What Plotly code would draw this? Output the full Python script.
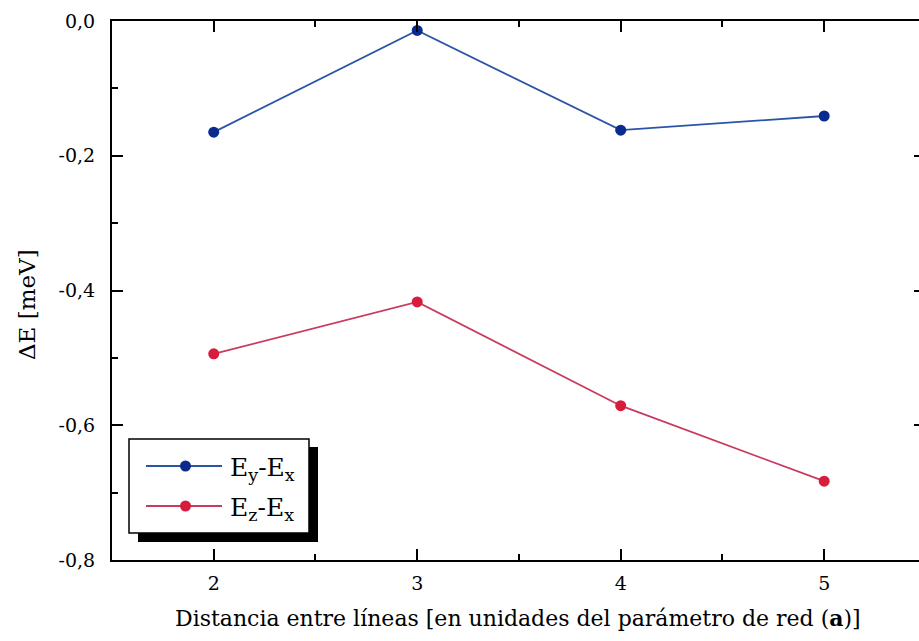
import plotly.graph_objects as go

# Distance between lines (in lattice parameter units)
distances = [2, 3, 4, 5]

# Energy differences [meV]
ey_minus_ex = [-0.165, -0.014, -0.162, -0.141]
ez_minus_ex = [-0.494, -0.417, -0.571, -0.683]

y_tick_values = [0.0, -0.2, -0.4, -0.6, -0.8]
y_tick_labels = ["0,0", "-0,2", "-0,4", "-0,6", "-0,8"]
x_tick_values = [2, 3, 4, 5]

series_names = ["E<sub>y</sub>-E<sub>x</sub>", "E<sub>z</sub>-E<sub>x</sub>"]
line_colors = ["#2a55a6", "#c93a5e"]
marker_colors = ["#0b2a8e", "#d81c3c"]

FONT = "DejaVu Serif"
W, H = 919, 641
ML, MR, MT, MB = 112, 0, 21, 81
PW, PH = W - ML - MR, H - MT - MB


def px(xp):
    return (xp - ML) / PW


def py(yp):
    return (H - MB - yp) / PH


fig = go.Figure()
for name, vals, lc, mc in zip(series_names, [ey_minus_ex, ez_minus_ex], line_colors, marker_colors):
    fig.add_trace(go.Scatter(
        x=distances, y=vals, name=name, mode="lines+markers",
        line=dict(color=lc, width=1.8),
        marker=dict(color=mc, size=11),
        showlegend=False,
    ))

# Empty trace bound to the right-hand axis so its ticks are drawn
fig.add_trace(go.Scatter(x=[None], y=[None], yaxis="y2", mode="lines",
                         showlegend=False, hoverinfo="skip"))

axis_common = dict(
    showgrid=False, zeroline=False, showline=True, linecolor="black", linewidth=2,
    ticks="inside", tickcolor="black", tickwidth=2, ticklen=11,
    tickfont=dict(family=FONT, size=19, color="black"),
)

fig.update_layout(
    width=W, height=H,
    margin=dict(l=ML, r=MR, t=MT, b=MB),
    paper_bgcolor="white", plot_bgcolor="white",
    xaxis=dict(
        range=[1.5, 5.466], tickvals=x_tick_values, mirror="ticks",
        minor=dict(ticks="inside", ticklen=6, tickwidth=2, tickcolor="black", dtick=0.5, tick0=1.5),
        ticklabelstandoff=5,
        **axis_common,
    ),
    yaxis=dict(
        range=[-0.8, 0.0], tickvals=y_tick_values, ticktext=y_tick_labels, mirror=False,
        minor=dict(ticks="inside", ticklen=6, tickwidth=2, tickcolor="black", dtick=0.1, tick0=0),
        ticklabelstandoff=11,
        **axis_common,
    ),
    yaxis2=dict(
        overlaying="y", side="right", anchor="x", range=[-0.8, 0.0],
        tickvals=y_tick_values, showticklabels=False, showgrid=False, zeroline=False,
        showline=False, ticks="inside", ticklen=5, tickwidth=2, tickcolor="black",
    ),
    showlegend=False,
)

# Axis titles
fig.add_annotation(
    text="Distancia entre líneas [en unidades del parámetro de red (<b>a</b>)]",
    xref="paper", yref="paper", x=px(518), y=py(618), showarrow=False,
    font=dict(family=FONT, size=22, color="black"), xanchor="center", yanchor="middle",
)
fig.add_annotation(
    text="ΔE [meV]", textangle=-90,
    xref="paper", yref="paper", x=px(27), y=py(305), showarrow=False,
    font=dict(family=FONT, size=23, color="black"), xanchor="center", yanchor="middle",
)

# Legend box with drop shadow
fig.add_shape(type="rect", xref="paper", yref="paper",
              x0=px(138), x1=px(318), y0=py(542), y1=py(447),
              fillcolor="black", line=dict(width=0), layer="above")
fig.add_shape(type="rect", xref="paper", yref="paper",
              x0=px(129), x1=px(309), y0=py(533), y1=py(439),
              fillcolor="white", line=dict(color="black", width=1.5), layer="above")

for i, (name, lc, mc) in enumerate(zip(series_names, line_colors, marker_colors)):
    yc = 466 + i * 40
    fig.add_shape(type="line", xref="paper", yref="paper",
                  x0=px(146), x1=px(222), y0=py(yc), y1=py(yc),
                  line=dict(color=lc, width=1.8), layer="above")
    fig.add_shape(type="circle", xref="paper", yref="paper",
                  x0=px(180), x1=px(191), y0=py(yc + 5.5), y1=py(yc - 5.5),
                  fillcolor=mc, line=dict(color=mc, width=0), layer="above")
    fig.add_annotation(
        text=name, xref="paper", yref="paper", x=px(228), y=py(yc + 3),
        showarrow=False, xanchor="left", yanchor="middle",
        font=dict(family=FONT, size=25, color="black"),
    )

fig.write_html("out.html")
